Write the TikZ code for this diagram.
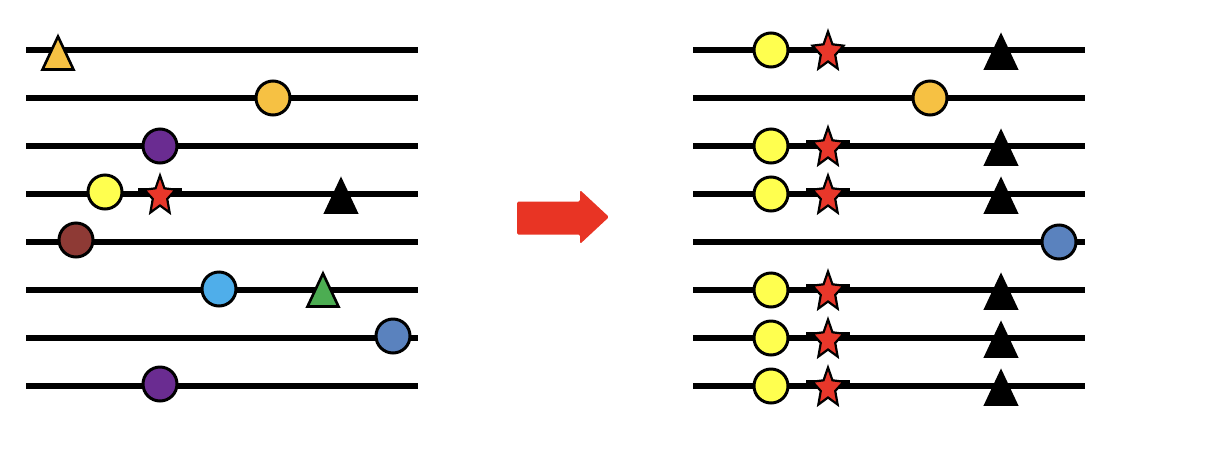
\documentclass[tikz,border=0pt]{standalone}
\begin{document}
\begin{tikzpicture}[x=1pt,y=-1pt,
  track/.style={line width=6.5pt},
  pics/dot/.style={code={\draw[line width=3pt,fill=#1] (0,0) circle (17);}},
  pics/tri/.style={code={\draw[line width=2.6pt,fill=#1,line join=miter] (0,-15.5) -- (15.5,17.5) -- (-15.5,17.5) -- cycle;}},
  pics/starp/.style={code={\draw[line width=2.2pt,fill=starred,line join=miter,xscale=0.8,yscale=-1]
     (90:20.5) -- (126:9.5) -- (162:20.5) -- (198:9.5) -- (234:20.5) -- (270:9.5) -- (306:20.5) -- (342:9.5) -- (18:20.5) -- (54:9.5) -- cycle;}},
  pics/stub/.style={code={\fill (-22,-6) rectangle (22,2);}}
]
\definecolor{yel}{HTML}{FFFF4F}
\definecolor{org}{HTML}{F6C143}
\definecolor{pur}{HTML}{6A2C91}
\definecolor{brn}{HTML}{8E3A35}
\definecolor{lbl}{HTML}{4FAEEA}
\definecolor{grn}{HTML}{4CAD52}
\definecolor{sbl}{HTML}{5A82BE}
\definecolor{starred}{HTML}{E8372A}
\definecolor{arr}{HTML}{E83424}
\useasboundingbox (0,0) rectangle (1218,448);
% tracks
\foreach \y in {50,98,146,194,242,290,338,386}{
  \draw[track] (26,\y) -- (418,\y);
  \draw[track] (693,\y) -- (1085,\y);
}
% left panel
\pic at (58,52) {tri=org};
\pic at (273,98) {dot=org};
\pic at (160,146) {dot=pur};
\pic at (105,192) {dot=yel};
\pic at (160,194) {stub};
\pic at (160,196) {starp};
\pic at (341,195) {tri=black};
\pic at (76,240) {dot=brn};
\pic at (219,289) {dot=lbl};
\pic at (323,289) {tri=grn};
\pic at (393,336) {dot=sbl};
\pic at (160,384) {dot=pur};
% arrow
\fill[arr,rounded corners=1.5pt] (517,201.5) -- (580,201.5) -- (580,190) -- (609,217) -- (580,244) -- (580,234.5) -- (517,234.5) -- cycle;
% right panel
\foreach \y in {50,146,194,290,338,386}{
  \pic at (771,\y) {dot=yel};
  \pic at (1001,\y+1) {tri=black};
}
\foreach \y in {146,194,290,338,386}{
  \pic at (828,\y) {stub};
}
\foreach \y in {50,146,194,290,338,386}{
  \pic at (828,\y+2) {starp};
}
\pic at (930,98) {dot=org};
\pic at (1059,242) {dot=sbl};
\end{tikzpicture}
\end{document}
